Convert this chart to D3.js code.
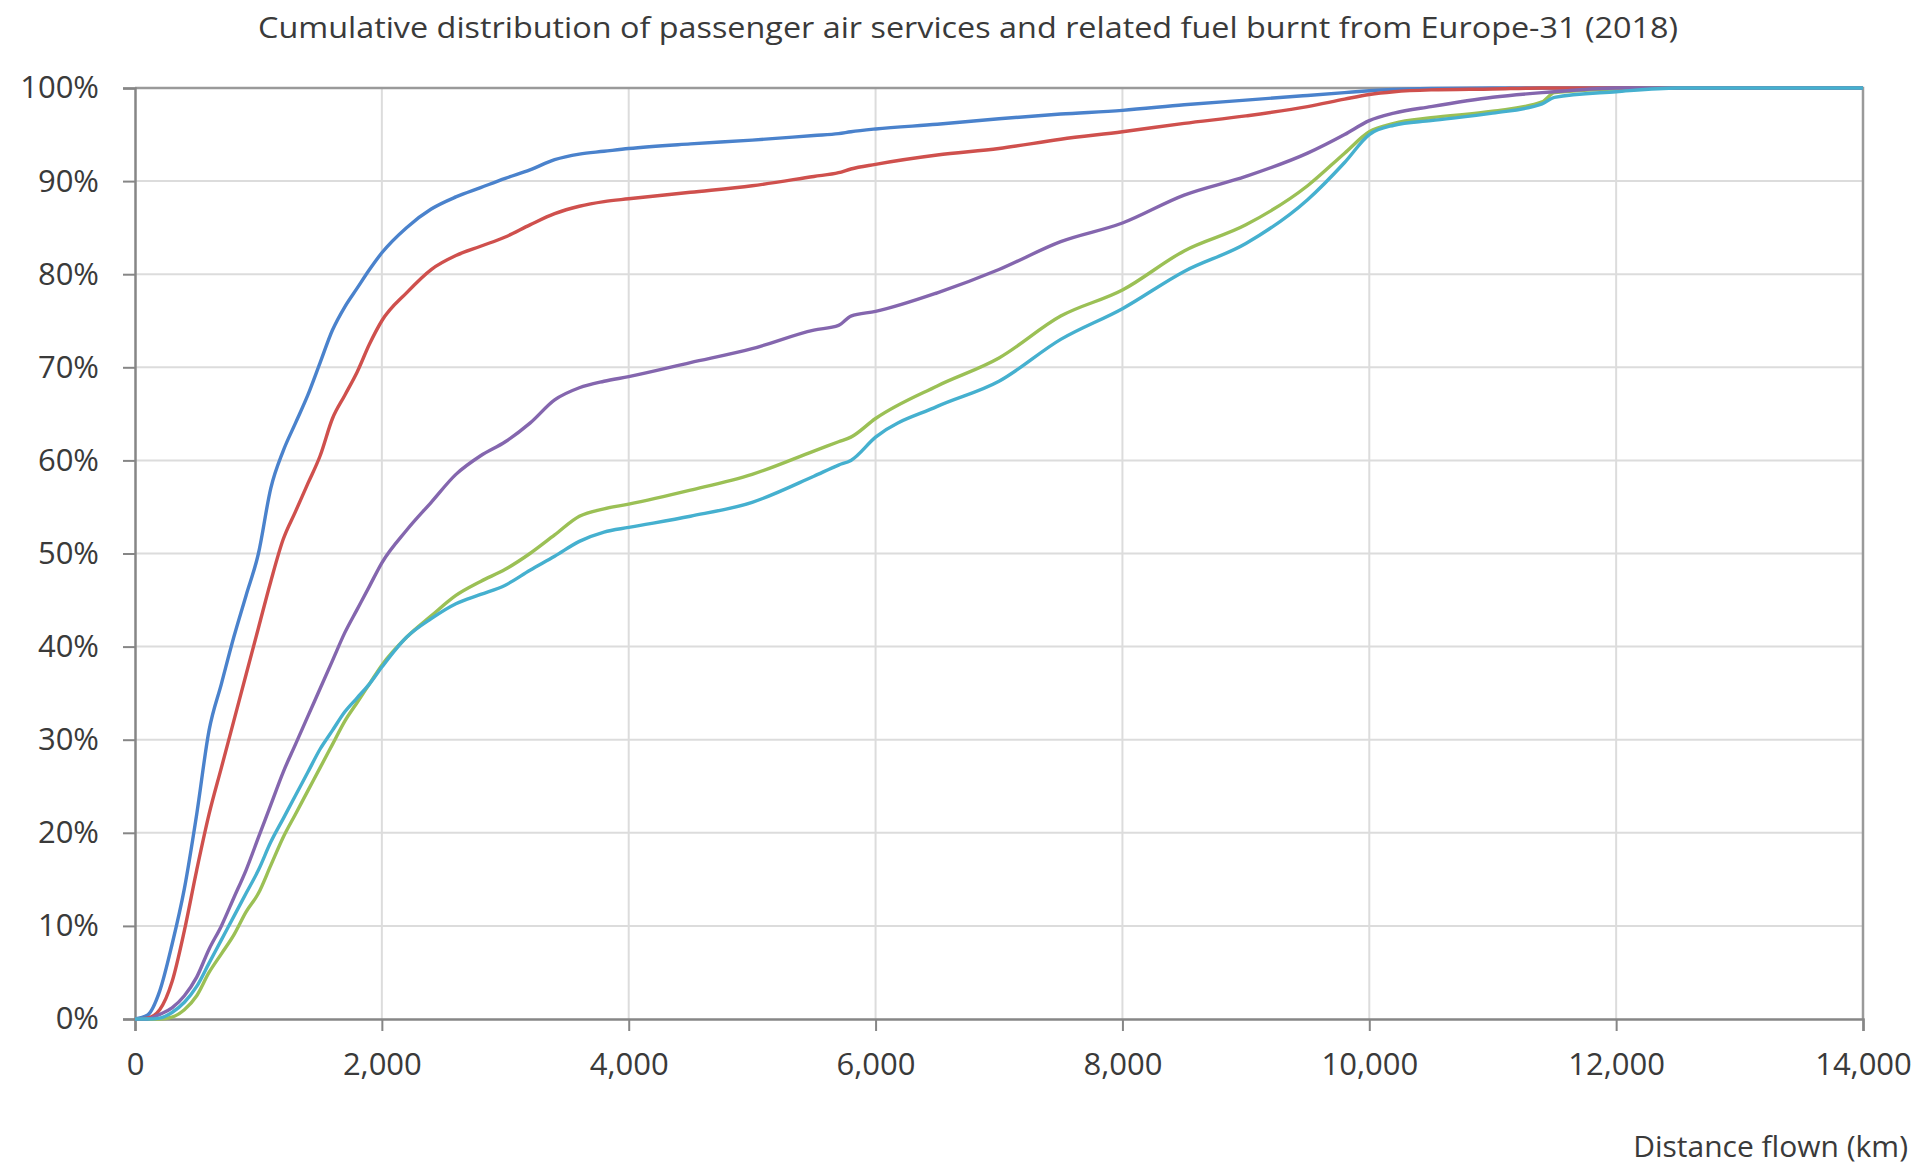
<!DOCTYPE html>
<html>
<head>
<meta charset="utf-8">
<script src="https://cdn.jsdelivr.net/npm/d3@7"></script>
<style>
  html, body { margin: 0; padding: 0; background: #fff; }
  svg text { font-family: "Open Sans", "Noto Sans", sans-serif; fill: #3a3a3a; }
</style>
</head>
<body>
<div id="chart"></div>
<script>
// distance flown (km) sample points, shared by all series
const distanceKm = [0,100,200,300,400,500,600,700,800,900,1000,1100,1200,1300,1400,1500,1600,1700,1800,1900,
  2000,2200,2400,2600,2800,3000,3200,3400,3600,3800,4000,4500,5000,5500,5700,5800,6000,6500,7000,7500,
  8000,8500,9000,9500,9800,10000,10200,10500,11000,11400,11500,12000,12500,13000,14000];

// cumulative share (%) per series
const blueSeries = [0,0.4,3,8,14,22,31,36,41,45.5,50,57,61,64,67,70.5,74,76.5,78.5,80.5,
  82.3,85,87,88.3,89.3,90.3,91.2,92.3,92.9,93.2,93.5,94,94.4,94.9,95.1,95.3,95.6,96.1,96.7,97.2,
  97.6,98.2,98.7,99.2,99.5,99.7,99.85,99.95,100,100,100,100,100,100,100];
const redSeries = [0,0.1,1,4,9.5,16,22,27,32,37,42,47,51.5,54.5,57.5,60.5,64.5,67,69.5,72.5,
  75,78,80.5,82,83,84,85.3,86.5,87.3,87.8,88.1,88.8,89.5,90.5,90.9,91.3,91.8,92.8,93.5,94.5,
  95.3,96.2,97,98,98.8,99.3,99.6,99.8,99.9,100,100,100,100,100,100];
const greenSeries = [0,0,0,0.2,1,2.5,5,7,9,11.5,13.5,16.5,19.5,22,24.5,27,29.5,32,34,36,
  38,41,43.3,45.5,47,48.3,50,52,54,54.8,55.3,56.8,58.5,61,62,62.5,64.5,68,71,75.5,
  78.3,82.5,85.3,89.5,93,95.3,96.2,96.8,97.5,98.5,99.5,99.9,100,100,100];
const purpleSeries = [0,0,0.5,1.2,2.5,4.5,7.5,10,13,16,19.5,23,26.5,29.5,32.5,35.5,38.5,41.5,44,46.5,
  49,52.5,55.5,58.5,60.5,62,64,66.5,67.8,68.5,69,70.5,72,74,74.5,75.5,76,78,80.5,83.5,
  85.5,88.5,90.5,93,95,96.5,97.3,98,99,99.5,99.6,100,100,100,100];
const cyanSeries = [0,0,0.1,0.7,1.8,3.5,6,8.5,11,13.5,16,19,21.5,24,26.5,29,31,33,34.5,36,
  37.8,41,43,44.6,45.6,46.6,48.2,49.7,51.3,52.3,52.8,54,55.5,58.3,59.5,60,62.5,65.8,68.5,73,
  76.3,80.3,83.3,88,92,95,96,96.5,97.3,98.3,99,99.6,100,100,100];

const xTicks = [0,2000,4000,6000,8000,10000,12000,14000];
const yTicks = [0,10,20,30,40,50,60,70,80,90,100];

const seriesList = [
  { name: 'blue',   values: blueSeries,   color: '#4A82CC' },
  { name: 'red',    values: redSeries,    color: '#CF504D' },
  { name: 'green',  values: greenSeries,  color: '#9BC055' },
  { name: 'purple', values: purpleSeries, color: '#8466AE' },
  { name: 'cyan',   values: cyanSeries,   color: '#45B0CF' }
];

const W = 1929, H = 1166;
const margin = { left: 135, right: 66, top: 88, bottom: 147 };
const innerW = W - margin.left - margin.right;
const innerH = H - margin.top - margin.bottom;

const svg = d3.select('#chart').append('svg').attr('width', W).attr('height', H);

const x = d3.scaleLinear().domain([0, 14000]).range([margin.left, margin.left + innerW]);
const y = d3.scaleLinear().domain([0, 100]).range([margin.top + innerH, margin.top]);

// gridlines
const grid = svg.append('g');
grid.selectAll('.hg').data(yTicks.slice(1)).enter().append('line')
  .attr('x1', x(0)).attr('x2', x(14000))
  .attr('y1', d => y(d)).attr('y2', d => y(d))
  .attr('stroke', '#dcdcdc').attr('stroke-width', 2);
grid.selectAll('.vg').data(xTicks.slice(1)).enter().append('line')
  .attr('x1', d => x(d)).attr('x2', d => x(d))
  .attr('y1', y(0)).attr('y2', y(100))
  .attr('stroke', '#dcdcdc').attr('stroke-width', 2);

// plot frame (top + right)
svg.append('path')
  .attr('d', `M${x(0)},${y(100)}H${x(14000)}V${y(0)}`)
  .attr('fill', 'none').attr('stroke', '#9a9a9a').attr('stroke-width', 2.5);

// axes
const xAxis = d3.axisBottom(x).tickValues(xTicks).tickSize(12).tickPadding(22)
  .tickFormat(d3.format(','));
const yAxis = d3.axisLeft(y).tickValues(yTicks).tickSize(12).tickPadding(24)
  .tickFormat(d => d + '%');

const gx = svg.append('g').attr('transform', `translate(0,${y(0)})`).call(xAxis);
const gy = svg.append('g').attr('transform', `translate(${x(0)},0)`).call(yAxis);
[gx, gy].forEach(g => {
  g.select('.domain').attr('stroke', '#868686').attr('stroke-width', 2.5);
  g.selectAll('.tick line').attr('stroke', '#868686').attr('stroke-width', 2);
  g.selectAll('.tick text').attr('font-size', 31).attr('fill', '#3a3a3a')
    .style('font-family', '"Open Sans", "Noto Sans", sans-serif');
});

// lines
const line = d3.line()
  .x((d, i) => x(distanceKm[i]))
  .y(d => y(d))
  .curve(d3.curveMonotoneX);

svg.append('g').selectAll('path').data(seriesList).enter().append('path')
  .attr('d', s => line(s.values))
  .attr('fill', 'none')
  .attr('stroke', s => s.color)
  .attr('stroke-width', 3.4)
  .attr('stroke-linejoin', 'round');

// title
svg.append('text')
  .attr('x', 968).attr('y', 38)
  .attr('text-anchor', 'middle')
  .attr('font-size', 30)
  .attr('textLength', 1420).attr('lengthAdjust', 'spacingAndGlyphs')
  .text('Cumulative distribution of passenger air services and related fuel burnt from Europe-31 (2018)');

// x axis title
svg.append('text')
  .attr('x', 1908).attr('y', 1157)
  .attr('text-anchor', 'end')
  .attr('font-size', 30)
  .text('Distance flown (km)');
</script>
</body>
</html>
